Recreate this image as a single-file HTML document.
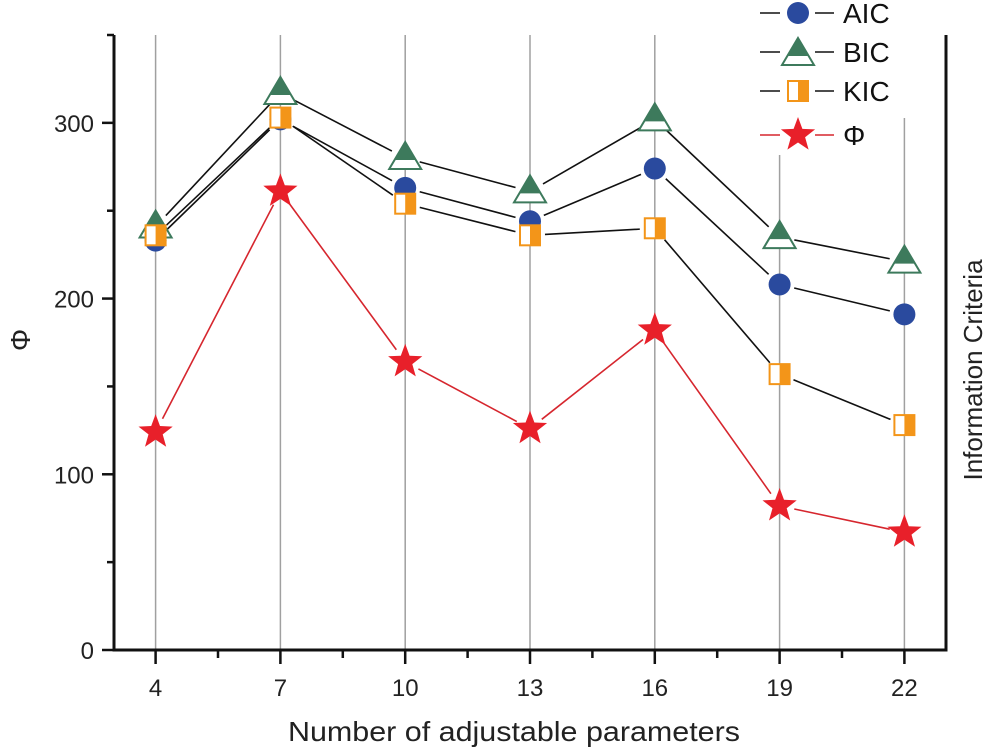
<!DOCTYPE html>
<html><head><meta charset="utf-8"><style>
body{margin:0;background:#fff;}
svg{display:block;font-family:"Liberation Sans",sans-serif;}
</style></head><body>
<svg id="chart" width="992" height="750"></svg>
<script>
const categories=[4,7,10,13,16,19,22];
const aic=[233,302,263,244,274,208,191];
const bic=[241,317,280,261,302,235,221];
const kic=[236,303,254,236,240,157,128];
const phi=[124,261,164,126,182,82,67];
const yTicks=[0,100,200,300];
const xTicks=[4,7,10,13,16,19,22];

const NS="http://www.w3.org/2000/svg";
const svg=document.getElementById('chart');
const L=114,R=946,T=35,B=650;
const xMin=3,xMax=23,yMin=0,yMax=350;
function sx(v){return L+(v-xMin)/(xMax-xMin)*(R-L);}
function sy(v){return B-(v-yMin)/(yMax-yMin)*(B-T);}
function mk(tag,attrs,parent){const e=document.createElementNS(NS,tag);for(const k in attrs)e.setAttribute(k,attrs[k]);(parent||svg).appendChild(e);return e;}

xTicks.forEach((v,i)=>{
  const top = v===19?155:(v===22?118:T);
  const g=mk('line',{x1:sx(v),x2:sx(v),y1:top,y2:B,stroke:'#a0a0a0','stroke-width':1.5});
  
  
});
const ax=mk('path',{d:`M${L},${T} L${L},${B} L${R},${B} L${R},${T}`,fill:'none',stroke:'#111','stroke-width':3});


for(let v=0;v<=yMax;v+=50){
  const major=v%100===0;
  mk('line',{x1:L-(major?12:7),x2:L,y1:sy(v),y2:sy(v),stroke:'#111','stroke-width':2.5});
}
yTicks.forEach(v=>{
  const t=mk('text',{x:L-20,y:sy(v)+9,'text-anchor':'end','font-size':24,fill:'#222'});
  t.textContent=v;
  
  
});
for(let v=xTicks[0]-1.5;v<=xMax;v+=1.5){
  if(v<xMin)continue;
  const major=xTicks.includes(v);
  mk('line',{x1:sx(v),x2:sx(v),y1:B,y2:B+(major?14:8),stroke:'#111','stroke-width':2.5});
}
xTicks.forEach(v=>{
  const t=mk('text',{x:sx(v),y:B+46,'text-anchor':'middle','font-size':24,fill:'#222'});
  t.textContent=v;
  
  
});
let t=mk('text',{x:288,y:741,'font-size':28,fill:'#222',textLength:452,lengthAdjust:'spacingAndGlyphs'});
t.textContent='Number of adjustable parameters';


t=mk('text',{x:0,y:0,'text-anchor':'middle','font-size':28,fill:'#222',transform:'translate(30,340) rotate(-90)'});
t.textContent='Φ';


t=mk('text',{x:0,y:0,'text-anchor':'middle','font-size':26,fill:'#222',transform:'translate(982,370) rotate(-90)'});
t.textContent='Information Criteria';



function circle(g,x,y){mk('circle',{cx:x,cy:y,r:11,fill:'#2a4a9e'},g);}
function tri(g,x,y){
  mk('path',{d:`M${x},${y-16} L${x+16},${y+11} L${x-16},${y+11} Z`,fill:'#fff',stroke:'#3d7a5c','stroke-width':2},g);
  mk('path',{d:`M${x},${y-16} L${x+10.5},${y+2} L${x-10.5},${y+2} Z`,fill:'#3d7a5c'},g);
}
function sq(g,x,y){
  mk('rect',{x:x-10,y:y-10,width:20,height:20,fill:'#fff',stroke:'#f39519','stroke-width':2},g);
  mk('rect',{x:x,y:y-10,width:10,height:20,fill:'#f39519'},g);
}
function star(g,x,y){
  let p=[];for(let i=0;i<10;i++){const r=i%2?7.5:18;const a=-Math.PI/2+i*Math.PI/5;p.push((x+r*Math.cos(a)).toFixed(1)+','+(y+r*Math.sin(a)).toFixed(1));}
  mk('polygon',{points:p.join(' '),fill:'#e8202a'},g);
}
function series(name,vals,color,marker){
  const g=mk('g',{});
  
  
  for(let i=0;i<vals.length-1;i++){
    const x1=sx(categories[i]),y1=sy(vals[i]),x2=sx(categories[i+1]),y2=sy(vals[i+1]);
    const dx=x2-x1,dy=y2-y1,len=Math.hypot(dx,dy),gap=15;
    const s=mk('line',{x1:x1+dx/len*gap,y1:y1+dy/len*gap,x2:x2-dx/len*gap,y2:y2-dy/len*gap,stroke:color,'stroke-width':1.6},g);
    
    
  }
  vals.forEach((v,i)=>{
    const mg=mk('g',{},g);
    
    
    marker(mg,sx(categories[i]),sy(v));
  });
}
series('aic',aic,'#111',circle);
series('bic',bic,'#111',tri);
series('kic',kic,'#111',sq);
series('phi',phi,'#d6262e',star);

const leg=mk('g',{});


const items=[['AIC',13,circle,'#111'],['BIC',52,tri,'#111'],['KIC',91,sq,'#111'],['Φ',135,star,'#d6262e']];
items.forEach(([lab,y,m,c])=>{
  const g=mk('g',{},leg);
  
  
  mk('line',{x1:760,x2:780,y1:y,y2:y,stroke:c,'stroke-width':1.6},g);
  mk('line',{x1:815,x2:834,y1:y,y2:y,stroke:c,'stroke-width':1.6},g);
  m(g,798,lab==='BIC'?y+2:y);
  const tx=mk('text',{x:843,y:y+10,'font-size':28,fill:'#111'},g);
  tx.textContent=lab;
});
</script>
</body></html>
